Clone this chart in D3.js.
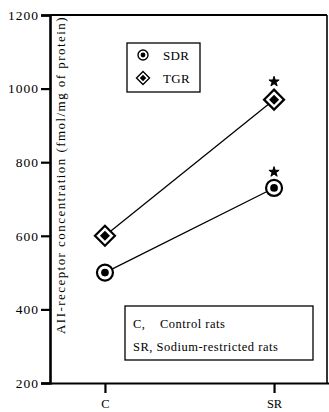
<!DOCTYPE html>
<html><head><meta charset="utf-8">
<script src="https://cdn.jsdelivr.net/npm/d3@7"></script>
<style>body{margin:0;background:#fff}svg{display:block}</style>
</head><body>
<svg id="c" width="329" height="412"></svg>
<script>
const categories = ["C", "SR"];
const sdrValues = [500, 730];
const tgrValues = [600, 970];
const yTicks = [200, 400, 600, 800, 1000, 1200];
const seriesNames = ["SDR", "TGR"];
const groupLegend = ["C,    Control rats", "SR, Sodium-restricted rats"];
const yLabel = "AII-receptor concentration (fmol/mg of protein)";

const svg = d3.select("#c");
const font = "Liberation Serif";
const L = 50, R = 327, T = 15, B = 383;

const x = d3.scalePoint().domain(categories).range([L, 329]).padding(0.325);
const y = d3.scaleLinear().domain([200, 1200]).range([B, T]);

// frame top and right
svg.append("line").attr("x1", L).attr("x2", R).attr("y1", T).attr("y2", T)
  .attr("stroke", "#000").attr("stroke-width", 2.2);
svg.append("line").attr("x1", R).attr("x2", R).attr("y1", T).attr("y2", B)
  .attr("stroke", "#000").attr("stroke-width", 1.6);

// left axis
const gy = svg.append("g").attr("transform", `translate(${L},0)`)
  .call(d3.axisLeft(y).tickValues(yTicks).tickSize(9).tickPadding(2).tickFormat(d3.format("d")));
gy.select(".domain").attr("stroke-width", 2.6);
gy.selectAll(".tick line").attr("stroke-width", 2.2);
gy.selectAll(".tick text").attr("font-family", font).attr("font-size", 13.5)
  .attr("letter-spacing", 1).attr("fill", "#000");

// bottom axis
const gx = svg.append("g").attr("transform", `translate(0,${B})`)
  .call(d3.axisBottom(x).tickSize(10).tickPadding(6).tickSizeOuter(0));
gx.select(".domain").attr("stroke-width", 2.2);
gx.selectAll(".tick line").attr("stroke-width", 2.2);
gx.selectAll(".tick text").attr("font-family", font).attr("font-size", 12.5).attr("fill", "#000");

// y label
svg.append("text").attr("transform", `translate(65,175) rotate(-90)`)
  .attr("text-anchor", "middle").attr("font-family", font).attr("font-size", 13)
  .attr("letter-spacing", 1.45)
  .text(yLabel);

// lines
const line = d3.line().x((d, i) => x(categories[i])).y(d => y(d));
[sdrValues, tgrValues].forEach(vals => {
  svg.append("path").datum(vals).attr("d", line).attr("fill", "none")
    .attr("stroke", "#000").attr("stroke-width", 1.3);
});

function circleMarker(g, cx, cy, r) {
  g.append("circle").attr("cx", cx).attr("cy", cy).attr("r", r).attr("fill", "#fff")
    .attr("stroke", "#000").attr("stroke-width", r > 6 ? 2.2 : 1.4);
  g.append("circle").attr("cx", cx).attr("cy", cy).attr("r", r * 0.48).attr("fill", "#000");
}
function diamondMarker(g, cx, cy, h) {
  const d = s => `M${cx},${cy - s}L${cx + s},${cy}L${cx},${cy + s}L${cx - s},${cy}Z`;
  g.append("path").attr("d", d(h)).attr("fill", "#fff").attr("stroke", "#000")
    .attr("stroke-width", h > 7 ? 2.2 : 1.4);
  g.append("path").attr("d", d(h * 0.5)).attr("fill", "#000");
}

const mg = svg.append("g");
sdrValues.forEach((v, i) => circleMarker(mg, x(categories[i]), y(v), 8));
tgrValues.forEach((v, i) => diamondMarker(mg, x(categories[i]), y(v), 10));

// significance marks above SR points
const star = d3.symbol().type(d3.symbolStar).size(32);
[sdrValues, tgrValues].forEach((vals, k) => {
  const i = 1;
  svg.append("path").attr("d", star)
    .attr("transform", `translate(${x(categories[i])},${y(vals[i]) - (k === 0 ? 16 : 18)})`)
    .attr("fill", "#000").attr("stroke", "#000").attr("stroke-width", 1).attr("stroke-linejoin", "round");
});

// legend 1
const lg = svg.append("g");
lg.append("rect").attr("x", 127).attr("y", 43).attr("width", 73).attr("height", 49)
  .attr("fill", "#fff").attr("stroke", "#000").attr("stroke-width", 1.3);
circleMarker(lg, 143, 55, 5);
diamondMarker(lg, 143, 78, 6.5);
seriesNames.forEach((n, i) => {
  lg.append("text").attr("x", 163).attr("y", 59.5 + i * 23).attr("font-family", font)
    .attr("font-size", 13).attr("letter-spacing", 0.3).text(n);
});

// legend 2
const lg2 = svg.append("g");
lg2.append("rect").attr("x", 125).attr("y", 306).attr("width", 188).attr("height", 54)
  .attr("fill", "#fff").attr("stroke", "#000").attr("stroke-width", 1.3);
groupLegend.forEach((t, i) => {
  lg2.append("text").attr("x", 133).attr("y", 328 + i * 23).attr("font-family", font)
    .attr("font-size", 12.5).attr("letter-spacing", 0.5)
    .attr("xml:space", "preserve").style("white-space", "pre").text(t);
});
</script>
</body></html>
